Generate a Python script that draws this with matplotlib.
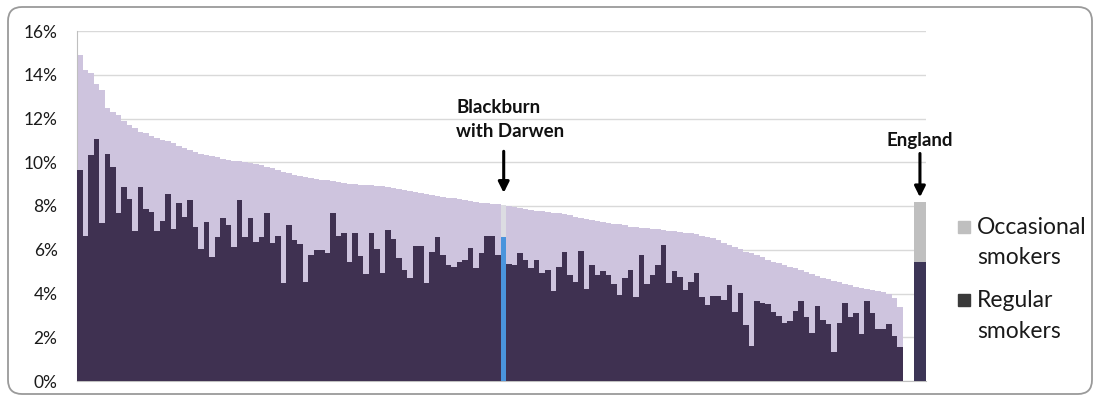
import matplotlib
matplotlib.use("Agg")
import matplotlib.pyplot as plt
from matplotlib.patches import FancyBboxPatch, Rectangle
from matplotlib.transforms import IdentityTransform
from matplotlib.ticker import FuncFormatter

plt.rcParams['font.family'] = ['Lato', 'DejaVu Sans']

# Total smoking prevalence (%) by local authority, sorted descending
total = [14.9, 14.2, 14.1, 13.6, 13.3, 12.5, 12.3, 12.15, 11.9, 11.7,
         11.55, 11.4, 11.35, 11.2, 11.1, 11.0, 10.95, 10.87, 10.75, 10.65,
         10.56, 10.48, 10.4, 10.33, 10.3, 10.22, 10.15, 10.1, 10.07, 10.05,
         10.03, 9.97, 9.92, 9.87, 9.8, 9.72, 9.65, 9.57, 9.5, 9.42,
         9.37, 9.32, 9.27, 9.24, 9.21, 9.19, 9.14, 9.09, 9.04, 9.02,
         9.0, 8.98, 8.96, 8.94, 8.92, 8.9, 8.88, 8.83, 8.78, 8.73,
         8.68, 8.63, 8.58, 8.54, 8.5, 8.46, 8.42, 8.38, 8.35, 8.3,
         8.26, 8.22, 8.18, 8.15, 8.13, 8.11, 8.08, 8.05, 8.0, 7.95,
         7.9, 7.85, 7.82, 7.79, 7.76, 7.73, 7.7, 7.67, 7.62, 7.57,
         7.52, 7.47, 7.41, 7.36, 7.32, 7.28, 7.24, 7.2, 7.16, 7.13,
         7.05, 7.02, 7.0, 6.98, 6.96, 6.94, 6.91, 6.88, 6.85, 6.82,
         6.78, 6.75, 6.7, 6.64, 6.58, 6.52, 6.43, 6.33, 6.22, 6.12,
         6.02, 5.92, 5.83, 5.74, 5.65, 5.55, 5.46, 5.38, 5.3, 5.22,
         5.15, 5.07, 4.98, 4.89, 4.8, 4.72, 4.65, 4.58, 4.51, 4.45,
         4.38, 4.31, 4.26, 4.21, 4.16, 4.12, 4.08, 3.98, 3.78, 3.4]

# Regular smokers (%) for the same local authorities
regular = [9.65, 6.63, 10.33, 11.06, 7.24, 10.38, 9.8, 7.7, 8.88, 8.3,
           6.87, 8.85, 7.85, 7.74, 6.86, 7.33, 8.55, 6.93, 8.12, 7.5,
           8.27, 7.04, 6.02, 7.28, 5.65, 6.6, 7.47, 7.13, 6.14, 8.27,
           6.6, 7.45, 6.37, 6.6, 7.7, 6.3, 6.65, 4.5, 7.13, 6.45,
           6.25, 4.54, 5.76, 5.99, 5.99, 5.84, 7.67, 6.63, 6.78, 5.45,
           6.78, 5.71, 4.88, 6.78, 6.02, 4.92, 6.9, 6.48, 5.61, 5.07,
           4.72, 6.17, 6.17, 4.47, 5.91, 6.6, 5.76, 5.3, 5.23, 5.45,
           5.53, 6.06, 5.15, 5.84, 6.62, 6.63, 5.76, 6.57, 5.33, 5.31,
           5.87, 5.53, 5.18, 5.53, 4.95, 5.07, 4.13, 5.2, 5.9, 4.85,
           4.54, 5.96, 4.19, 5.31, 4.85, 5.04, 4.85, 4.43, 3.93, 4.69,
           5.07, 3.85, 5.76, 4.43, 4.85, 5.3, 6.22, 4.47, 5.04, 4.74,
           4.16, 4.54, 4.92, 3.85, 3.47, 3.88, 3.88, 3.7, 4.39, 3.17,
           4.04, 2.56, 1.6, 3.66, 3.55, 3.52, 3.17, 2.97, 2.67, 2.76,
           3.21, 3.67, 2.91, 2.21, 3.43, 2.79, 2.61, 1.34, 2.67, 3.55,
           2.91, 3.09, 2.15, 3.67, 3.12, 2.36, 2.36, 2.61, 2.06, 1.57]

highlight_index = 77          # Blackburn with Darwen
england_total = 8.2
england_regular = 5.45
yticks = [0, 2, 4, 6, 8, 10, 12, 14, 16]
legend_labels = ["Occasional\nsmokers", "Regular\nsmokers"]

C_REG = "#3F3151"
C_OCC = "#CEC4DE"
C_BWD_REG = "#4A94DC"
C_BWD_OCC = "#DCDCE2"
C_ENG_REG = "#3C3556"
C_ENG_OCC = "#BFBFBF"

fig = plt.figure(figsize=(11, 4), dpi=100)
ax = fig.add_axes([77/1100, 1 - 381/400, (926 - 77)/1100, 350/400])

n = len(total)
xs = list(range(n))
occ_colors = [C_BWD_OCC if i == highlight_index else C_OCC for i in xs]
reg_colors = [C_BWD_REG if i == highlight_index else C_REG for i in xs]

ax.bar(xs, total, width=1.0, color=occ_colors, linewidth=0, antialiased=False, zorder=2)
ax.bar(xs, regular, width=1.0, color=reg_colors, linewidth=0, antialiased=False, zorder=3)

eng_x = n + 2.6
ax.bar([eng_x], [england_total], width=2.2, color=C_ENG_OCC, linewidth=0, zorder=2)
ax.bar([eng_x], [england_regular], width=2.2, color=C_ENG_REG, linewidth=0, zorder=3)

ax.set_xlim(-0.5, eng_x + 1.1)
ax.set_ylim(0, 16)
ax.set_yticks(yticks)
ax.yaxis.set_major_formatter(FuncFormatter(lambda v, p: f"{v:.0f}%"))
ax.set_xticks([])
ax.grid(axis='y', color='#D9D9D9', linewidth=1, zorder=0)
ax.set_axisbelow(True)
for s in ['top', 'right']:
    ax.spines[s].set_visible(False)
ax.spines['left'].set_color('#BFBFBF')
ax.spines['bottom'].set_color('#BFBFBF')
ax.tick_params(axis='y', length=0, pad=14, labelsize=12.5, colors='#1a1a1a')

# annotations
ax.annotate("", xy=(highlight_index, 8.6), xytext=(highlight_index, 10.5),
            arrowprops=dict(arrowstyle='-|>', lw=2.2, color='black', mutation_scale=16,
                            shrinkA=0, shrinkB=0), zorder=5)
ax.text(68.4, 11.95, "Blackburn\nwith Darwen", ha='left', va='center',
        fontsize=13.5, fontweight='bold', linespacing=1.5, color='#111111')
ax.annotate("", xy=(eng_x, 8.4), xytext=(eng_x, 10.4),
            arrowprops=dict(arrowstyle='-|>', lw=2.2, color='black', mutation_scale=16,
                            shrinkA=0, shrinkB=0), zorder=5)
ax.text(eng_x, 10.98, "England", ha='center', va='center',
        fontsize=13.5, fontweight='bold', color='#111111')

# legend (manual)
W, H = 1100, 400
leg_colors = [C_ENG_OCC, "#3A3A3A"]
leg_y = [242.5, 316]
for lab, col, yc in zip(legend_labels, leg_colors, leg_y):
    fig.patches.append(Rectangle((958/W, 1 - (yc - 16 + 6)/H), 12/W, 12/H,
                                 transform=fig.transFigure, color=col))
    fig.text(977/W, 1 - yc/H, lab, ha='left', va='center', fontsize=16.5,
             linespacing=1.55, color='#1a1a1a')

# outer rounded border
border = FancyBboxPatch((8, 6), 1084, 387, boxstyle="round,pad=0,rounding_size=14",
                        transform=IdentityTransform(), facecolor='none',
                        edgecolor='#9A9A9A', linewidth=1.3)
fig.patches.append(border)

fig.savefig("out.png", dpi=100)
